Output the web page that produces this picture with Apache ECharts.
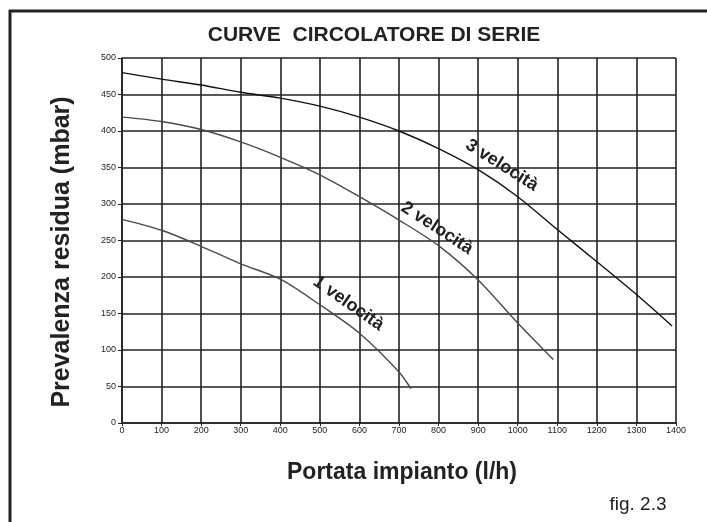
<!DOCTYPE html>
<html>
<head>
<meta charset="utf-8">
<script src="https://cdn.jsdelivr.net/npm/echarts@6/dist/echarts.min.js"></script>
<style>
html,body{margin:0;padding:0;background:#fff;}
#chart{width:707px;height:522px;}
</style>
</head>
<body>
<div id="chart"></div>
<script>
// Data
var flow3 = [0, 100, 200, 300, 400, 500, 600, 700, 800, 900, 1000, 1100, 1200, 1300, 1390];
var head3 = [480, 471, 463, 453, 445, 434, 419, 400, 376, 347, 310, 265, 221, 176, 133];
var flow2 = [0, 100, 200, 300, 400, 500, 600, 700, 800, 900, 1000, 1090];
var head2 = [419, 413, 402, 385, 364, 340, 310, 278, 243, 196, 137, 87];
var flow1 = [0, 100, 200, 300, 400, 500, 600, 700, 730];
var head1 = [279, 264, 242, 218, 197, 162, 123, 70, 47];
var seriesNames = ['3 velocità', '2 velocità', '1 velocità'];
var labelAnchors = [[960, 353], [796, 267], [572, 164]];
var labelAngles = [-32, -33, -35];

function pairs(xs, ys) { return xs.map(function (x, i) { return [x, ys[i]]; }); }

var chart = echarts.init(document.getElementById('chart'), null, {renderer: 'canvas'});
var ff = 'Liberation Sans, Arial, sans-serif';
var lineColors = ['#111', '#4a4a4a', '#4a4a4a'];
var datasets = [pairs(flow3, head3), pairs(flow2, head2), pairs(flow1, head1)];

var series = datasets.map(function (d, i) {
  return {
    type: 'line',
    name: seriesNames[i],
    data: d,
    smooth: 0.3,
    showSymbol: false,
    silent: true,
    lineStyle: {color: lineColors[i], width: 1.4},
    z: 5,
    markPoint: {
      symbol: 'circle',
      symbolSize: 1,
      itemStyle: {color: 'rgba(0,0,0,0)'},
      silent: true,
      label: {
        show: true,
        position: 'inside',
        formatter: seriesNames[i],
        rotate: labelAngles[i],
        fontFamily: ff,
        fontWeight: 'bold',
        fontSize: 18,
        color: '#222'
      },
      data: [{coord: labelAnchors[i]}]
    }
  };
});

chart.setOption({
  animation: false,
  backgroundColor: '#fff',
  title: {
    text: 'CURVE  CIRCOLATORE DI SERIE',
    left: 369, top: 20, textAlign: 'center',
    textStyle: {fontFamily: ff, fontWeight: 'bold', fontSize: 21, color: '#222'}
  },
  grid: {left: 122, right: 31, top: 58, bottom: 99, containLabel: false},
  xAxis: {
    type: 'value', min: 0, max: 1400, interval: 100,
    axisLine: {show: true, onZero: false, lineStyle: {color: '#222', width: 1.6}},
    axisTick: {show: true, length: 3, lineStyle: {color: '#222'}},
    axisLabel: {fontFamily: ff, fontSize: 9, color: '#222', margin: 3, formatter: function (v) { return String(v); }},
    splitLine: {show: true, lineStyle: {color: '#222', width: 1.6}}
  },
  yAxis: {
    type: 'value', min: 0, max: 500, interval: 50,
    axisLine: {show: true, lineStyle: {color: '#222', width: 1.6}},
    axisTick: {show: true, length: 4, lineStyle: {color: '#222'}},
    axisLabel: {fontFamily: ff, fontSize: 9, color: '#222', margin: 6, formatter: function (v) { return String(v); }},
    splitLine: {show: true, lineStyle: {color: '#222', width: 1.6}}
  },
  graphic: [
    {type: 'line', shape: {x1: 9, y1: 11, x2: 707, y2: 11}, style: {stroke: '#222', lineWidth: 3}},
    {type: 'line', shape: {x1: 10, y1: 10, x2: 10, y2: 522}, style: {stroke: '#222', lineWidth: 3}},
    {type: 'text', x: 402, y: 473, style: {text: 'Portata impianto (l/h)', fontFamily: ff, fontWeight: 'bold', fontSize: 23, fill: '#222', textAlign: 'center', textVerticalAlign: 'middle'}},
    {type: 'text', x: 62, y: 252, rotation: Math.PI / 2, style: {text: 'Prevalenza residua (mbar)', fontFamily: ff, fontWeight: 'bold', fontSize: 25, fill: '#222', textAlign: 'center', textVerticalAlign: 'middle'}},
    {type: 'text', x: 638, y: 505, style: {text: 'fig. 2.3', fontFamily: ff, fontSize: 19, fill: '#222', textAlign: 'center', textVerticalAlign: 'middle'}}
  ],
  series: series
});
</script>
</body>
</html>
